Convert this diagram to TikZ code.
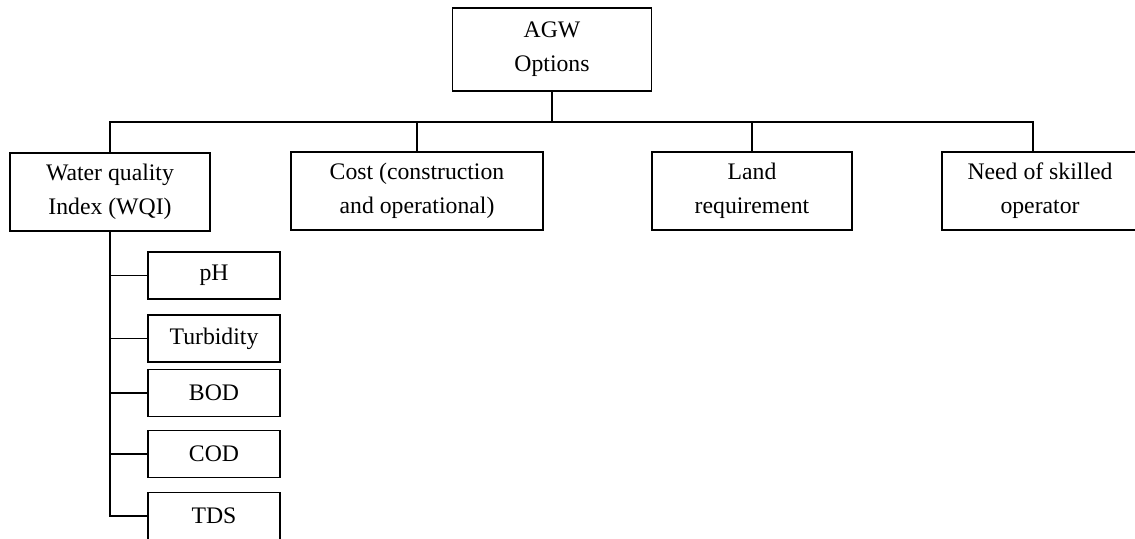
\documentclass[tikz,border=0pt]{standalone}
\usepackage{fontspec}
\setmainfont{Liberation Serif}
\usepackage{tikz}
\usetikzlibrary{positioning, calc}
\tikzset{
  box/.style    = {rectangle, draw=black, line width=1pt, align=center,
                   inner sep=0pt, font=\fontsize{13.5}{19.4}\selectfont},
  subbox/.style = {box, minimum width=2.64cm, minimum height=0.94cm},
  link/.style   = {line width=1pt, black},
}

\begin{document}
\begin{tikzpicture}[x=0.02cm, y=-0.02cm]

  \useasboundingbox (0,0) rectangle (1135,538);

  % Top node
  \node[box, minimum width=3.98cm, minimum height=1.66cm] (agw) at (552,49.5) {AGW\\Options};

  % Criteria row
  \node[box, minimum width=4cm,    minimum height=1.56cm] (wqi)  at (110,192)  {Water quality\\Index (WQI)};
  \node[box, minimum width=5.04cm, minimum height=1.56cm] (cost) at (417,191)  {Cost (construction\\and operational)};
  \node[box, minimum width=4cm,    minimum height=1.56cm] (land) at (752,191)  {Land\\requirement};
  \node[box, minimum width=3.92cm, minimum height=1.56cm] (need) at (1040,191) {Need of skilled\\operator};

  % WQI parameters
  \node[subbox] (ph)   at (214,275.5) {pH};
  \node[subbox] (turb) at (214,338.5) {Turbidity};
  \node[subbox] (bod)  at (214,393)   {BOD};
  \node[subbox] (cod)  at (214,454)   {COD};
  \node[subbox] (tds)  at (214,516)   {TDS};

  % Tree lines
  \coordinate (bus) at (agw.south |- 0,122);
  \draw[link] (agw.south) -- (bus);
  \draw[link] (wqi.north) |- (bus) -| ([xshift=-0.14cm]need.north);
  \draw[link] (cost.north) -- (cost.north |- bus);
  \draw[link] (land.north) -- (land.north |- bus);

  \draw[link] (wqi.south) |- (tds.west);
  \foreach \p in {ph, turb, bod, cod}
    \draw[link] (\p.west) -- (\p.west -| wqi.south);

\end{tikzpicture}
\end{document}
